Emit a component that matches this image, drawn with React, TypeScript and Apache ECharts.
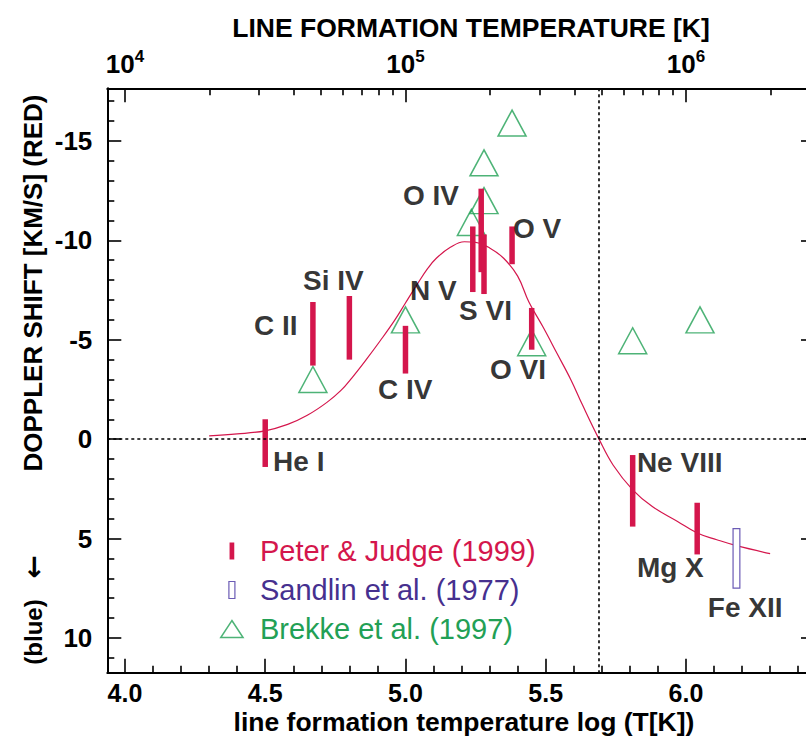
import React, { useEffect, useRef } from "react";
import * as echarts from "echarts";

// Peter & Judge (1999): ion, formation temperature (log T) and Doppler-shift range [km/s]
const ions = ["He I", "C II", "Si IV", "C IV", "N V", "O IV", "S VI", "O V", "O VI", "Ne VIII", "Mg X"];
const ionLogT = [4.5, 4.67, 4.8, 5.0, 5.24, 5.27, 5.28, 5.38, 5.45, 5.81, 6.04];
const shiftLow = [-1.0, -6.9, -7.2, -5.7, -10.7, -12.6, -10.3, -10.7, -6.6, 0.8, 3.2];
const shiftHigh = [1.4, -3.7, -4.0, -3.3, -7.4, -8.4, -7.3, -8.8, -4.5, 4.4, 5.8];

// Sandlin et al. (1977)
const sandlinIon = ["Fe XII"];
const sandlinLogT = [6.18];
const sandlinLow = [4.5];
const sandlinHigh = [7.5];

// Brekke et al. (1997)
const brekkeLogT = [4.67, 5.0, 5.235, 5.28, 5.28, 5.38, 5.45, 5.81, 6.05];
const brekkeShift = [-3.0, -6.0, -10.9, -12.0, -13.9, -15.9, -4.85, -4.95, -6.0];

// fitted trend of shift versus temperature
const fitLogT = [4.3, 4.4, 4.5, 4.58, 4.65, 4.72, 4.77, 4.81, 4.86, 4.91, 4.96, 5.0, 5.04, 5.08, 5.11, 5.16, 5.21, 5.25, 5.3, 5.35, 5.4, 5.44, 5.49, 5.54, 5.59, 5.63, 5.69, 5.74, 5.81, 5.88, 5.97, 6.04, 6.11, 6.18, 6.3];
const fitShift = [-0.16, -0.26, -0.42, -0.74, -1.2, -1.85, -2.45, -3.1, -4.0, -4.95, -5.95, -6.85, -7.75, -8.6, -9.1, -9.65, -9.93, -9.9, -9.62, -9.1, -8.2, -6.9, -5.65, -4.32, -2.98, -1.75, 0.0, 1.3, 2.55, 3.39, 4.14, 4.72, 5.06, 5.36, 5.76];

// temperature where the fit changes sign
const crossLogT = 5.69;

// ion label anchors (left edge, vertical centre) in data units
const labelText = ["He I", "C II", "Si IV", "C IV", "N V", "O IV", "S VI", "O V", "O VI", "Ne VIII", "Mg X", "Fe XII"];
const labelLogT = [4.528, 4.46, 4.635, 4.902, 5.016, 4.991, 5.191, 5.383, 5.301, 5.825, 5.825, 6.078];
const labelShift = [1.14, -5.74, -8.0, -2.48, -7.5, -12.28, -6.45, -10.62, -3.48, 1.19, 6.47, 8.48];

// axes
const xMin = 3.937;
const xMax = 6.46;
const yMin = -17.65;
const yMax = 11.75;
const bottomMajor = [4.0, 4.5, 5.0, 5.5, 6.0];
const bottomMinor = [4.1, 4.2, 4.3, 4.4, 4.6, 4.7, 4.8, 4.9, 5.1, 5.2, 5.3, 5.4, 5.6, 5.7, 5.8, 5.9, 6.1, 6.2, 6.3, 6.4];
const topDecades = [4, 5, 6];
const topMultiples = [2, 3, 4, 5, 6, 7, 8, 9];
const leftMajor = [-15, -10, -5, 0, 5, 10];
const leftMinor = [-17, -16, -14, -13, -12, -11, -9, -8, -7, -6, -4, -3, -2, -1, 1, 2, 3, 4, 6, 7, 8, 9, 11];

const RED = "#d4164c";
const PURPLE = "#46308f";
const PURPLE_BOX = "#6b5bb5";
const GREEN = "#22a055";
const INK = "#000000";
const FONT = "'Liberation Sans', Arial, Helvetica, sans-serif";

const topMinor: number[] = [];
topDecades.forEach((d) => {
  topMultiples.forEach((m) => {
    const v = d + Math.log10(m);
    if (v < xMax) topMinor.push(v);
  });
});

function tickAxis(extra: any) {
  return {
    type: "value",
    gridIndex: 0,
    splitLine: { show: false },
    axisLine: { show: false, onZero: false },
    axisLabel: { show: false },
    ...extra,
  };
}

export default function App() {
  const ref = useRef<HTMLDivElement>(null);

  useEffect(() => {
    if (!ref.current) return;
    const chart = echarts.init(ref.current, null, { renderer: "svg" });

    const axisLineStyle = { show: true, onZero: false, lineStyle: { color: INK, width: 2 } };
    const majorTick = (values: number[]) => ({
      show: true,
      inside: true,
      length: 14,
      customValues: values,
      lineStyle: { color: INK, width: 1.6 },
    });
    const minorTick = (values: number[]) => ({
      show: true,
      inside: true,
      length: 7,
      customValues: values,
      lineStyle: { color: INK, width: 1.6 },
    });
    const tickFont = { fontFamily: FONT, fontWeight: "bold", fontSize: 25, color: INK };

    const option: any = {
      animation: false,
      backgroundColor: "#ffffff",
      // the plot frame's right edge runs just past the visible page
      grid: { left: 107.3, top: 88.3, right: 0, bottom: 67.3, containLabel: false },
      xAxis: [
        tickAxis({
          position: "bottom",
          min: xMin,
          max: xMax,
          axisLine: axisLineStyle,
          axisTick: majorTick(bottomMajor),
          axisLabel: {
            show: true,
            customValues: bottomMajor,
            margin: 9,
            lineHeight: 22,
            formatter: (v: number) => v.toFixed(1),
            ...tickFont,
          },
        }),
        tickAxis({ position: "bottom", min: xMin, max: xMax, axisTick: minorTick(bottomMinor) }),
        tickAxis({
          position: "top",
          min: xMin,
          max: xMax,
          axisLine: axisLineStyle,
          axisTick: majorTick(topDecades),
          axisLabel: {
            show: true,
            customValues: topDecades,
            margin: 9,
            formatter: (v: number) => `{b|10}{s|${Math.round(v)}}`,
            rich: {
              b: { fontFamily: FONT, fontWeight: "bold", fontSize: 26, color: INK },
              s: { fontFamily: FONT, fontWeight: "bold", fontSize: 17, color: INK, verticalAlign: "top", padding: [0, 0, 14, 0] },
            },
          },
        }),
        tickAxis({ position: "top", min: xMin, max: xMax, axisTick: minorTick(topMinor) }),
      ],
      yAxis: [
        tickAxis({
          position: "left",
          inverse: true,
          min: yMin,
          max: yMax,
          axisLine: axisLineStyle,
          axisTick: majorTick(leftMajor),
          axisLabel: {
            show: true,
            customValues: leftMajor,
            margin: 15,
            formatter: (v: number) => String(v),
            ...tickFont,
            fontSize: 26,
          },
        }),
        tickAxis({ position: "left", inverse: true, min: yMin, max: yMax, axisTick: minorTick(leftMinor) }),
        tickAxis({
          position: "right",
          inverse: true,
          min: yMin,
          max: yMax,
          axisLine: axisLineStyle,
          axisTick: majorTick(leftMajor),
        }),
        tickAxis({ position: "right", inverse: true, min: yMin, max: yMax, axisTick: minorTick(leftMinor) }),
      ],
      legend: {
        orient: "vertical",
        left: 215,
        top: 531.5,
        itemWidth: 46,
        itemHeight: 17,
        itemGap: 10,
        selectedMode: false,
        symbolKeepAspect: true,
        textStyle: { fontFamily: FONT, fontSize: 29, lineHeight: 29 },
        data: [
          {
            name: "Peter & Judge (1999)",
            icon: "path://M0,0H5V18H0Z",
            itemStyle: { color: RED },
            textStyle: { color: RED },
          },
          {
            name: "Sandlin et al. (1977)",
            icon: "path://M0,0H6V17H0Z",
            itemStyle: { color: "rgba(0,0,0,0)", borderColor: PURPLE_BOX, borderWidth: 1.2 },
            textStyle: { color: PURPLE },
          },
          {
            name: "Brekke et al. (1997)",
            icon: "path://M10.5,0L21,16H0Z",
            itemStyle: { color: "rgba(0,0,0,0)", borderColor: GREEN, borderWidth: 1.5 },
            textStyle: { color: GREEN },
          },
        ],
      },
      graphic: [
        {
          type: "text",
          x: 471,
          y: 28,
          style: {
            text: "LINE FORMATION TEMPERATURE [K]",
            font: `bold 26.5px ${FONT}`,
            fill: INK,
            textAlign: "center",
            textVerticalAlign: "middle",
          },
        },
        {
          type: "text",
          x: 464,
          y: 722,
          style: {
            text: "line formation temperature log (T[K])",
            font: `bold 26.5px ${FONT}`,
            lineHeight: 24,
            fill: INK,
            textAlign: "center",
            textVerticalAlign: "middle",
          },
        },
        {
          type: "text",
          x: 33,
          y: 283,
          rotation: Math.PI / 2,
          style: {
            text: "DOPPLER SHIFT [KM/S] (RED)",
            font: `bold 26px ${FONT}`,
            fill: INK,
            textAlign: "center",
            textVerticalAlign: "middle",
          },
        },
        {
          type: "text",
          x: 33,
          y: 567,
          rotation: Math.PI / 2,
          style: {
            text: "\u2190",
            font: `bold 28px 'DejaVu Sans', sans-serif`,
            fill: INK,
            textAlign: "center",
            textVerticalAlign: "middle",
          },
        },
        {
          type: "text",
          x: 33,
          y: 632,
          rotation: Math.PI / 2,
          style: {
            text: "(blue)",
            font: `bold 24px ${FONT}`,
            fill: INK,
            textAlign: "center",
            textVerticalAlign: "middle",
          },
        },
      ],
      series: [
        {
          name: "Brekke et al. (1997)",
          type: "scatter",
          symbol: "triangle",
          symbolSize: [28, 26],
          itemStyle: { color: "rgba(0,0,0,0)", borderColor: GREEN, borderWidth: 1.5 },
          data: brekkeLogT.map((t, i) => [t, brekkeShift[i]]),
          z: 2,
        },
        {
          name: "fit",
          type: "line",
          smooth: 0.4,
          showSymbol: false,
          lineStyle: { color: RED, width: 1.2 },
          data: fitLogT.map((t, i) => [t, fitShift[i]]),
          markLine: {
            silent: true,
            symbol: "none",
            label: { show: false },
            lineStyle: { type: [3, 3], color: INK, width: 1.6 },
            data: [{ yAxis: 0 }, { xAxis: crossLogT }],
          },
          z: 3,
        },
        {
          name: "Peter & Judge (1999)",
          type: "custom",
          itemStyle: { color: RED },
          encode: { x: 0, y: [1, 2] },
          data: ionLogT.map((t, i) => [t, shiftLow[i], shiftHigh[i], ions[i]]),
          renderItem: (params: any, api: any) => {
            const a = api.coord([api.value(0), api.value(1)]);
            const b = api.coord([api.value(0), api.value(2)]);
            return {
              type: "rect",
              shape: { x: a[0] - 2.75, y: Math.min(a[1], b[1]), width: 5.5, height: Math.abs(b[1] - a[1]) },
              style: { fill: RED },
            };
          },
          z: 4,
        },
        {
          name: "Sandlin et al. (1977)",
          type: "custom",
          itemStyle: { color: PURPLE_BOX },
          encode: { x: 0, y: [1, 2] },
          data: sandlinLogT.map((t, i) => [t, sandlinLow[i], sandlinHigh[i], sandlinIon[i]]),
          renderItem: (params: any, api: any) => {
            const a = api.coord([api.value(0), api.value(1)]);
            const b = api.coord([api.value(0), api.value(2)]);
            return {
              type: "rect",
              shape: { x: a[0] - 3.4, y: Math.min(a[1], b[1]), width: 6.8, height: Math.abs(b[1] - a[1]) },
              style: { fill: "#ffffff", stroke: PURPLE_BOX, lineWidth: 1.2 },
            };
          },
          z: 4,
        },
        {
          name: "ion labels",
          type: "scatter",
          symbolSize: 0,
          silent: true,
          data: labelText.map((s, i) => [labelLogT[i], labelShift[i], s]),
          label: {
            show: true,
            position: "right",
            distance: 0,
            formatter: (p: any) => p.data[2],
            fontFamily: FONT,
            fontWeight: "bold",
            fontSize: 28,
            color: INK,
          },
          z: 5,
        },
      ],
    };

    chart.setOption(option);
    return () => chart.dispose();
  }, []);

  return (
    <div style={{ position: "absolute", left: 0, top: 0, width: 806, height: 740, overflow: "hidden", background: "#fff" }}>
      <div ref={ref} style={{ width: 815, height: 740 }} />
    </div>
  );
}
